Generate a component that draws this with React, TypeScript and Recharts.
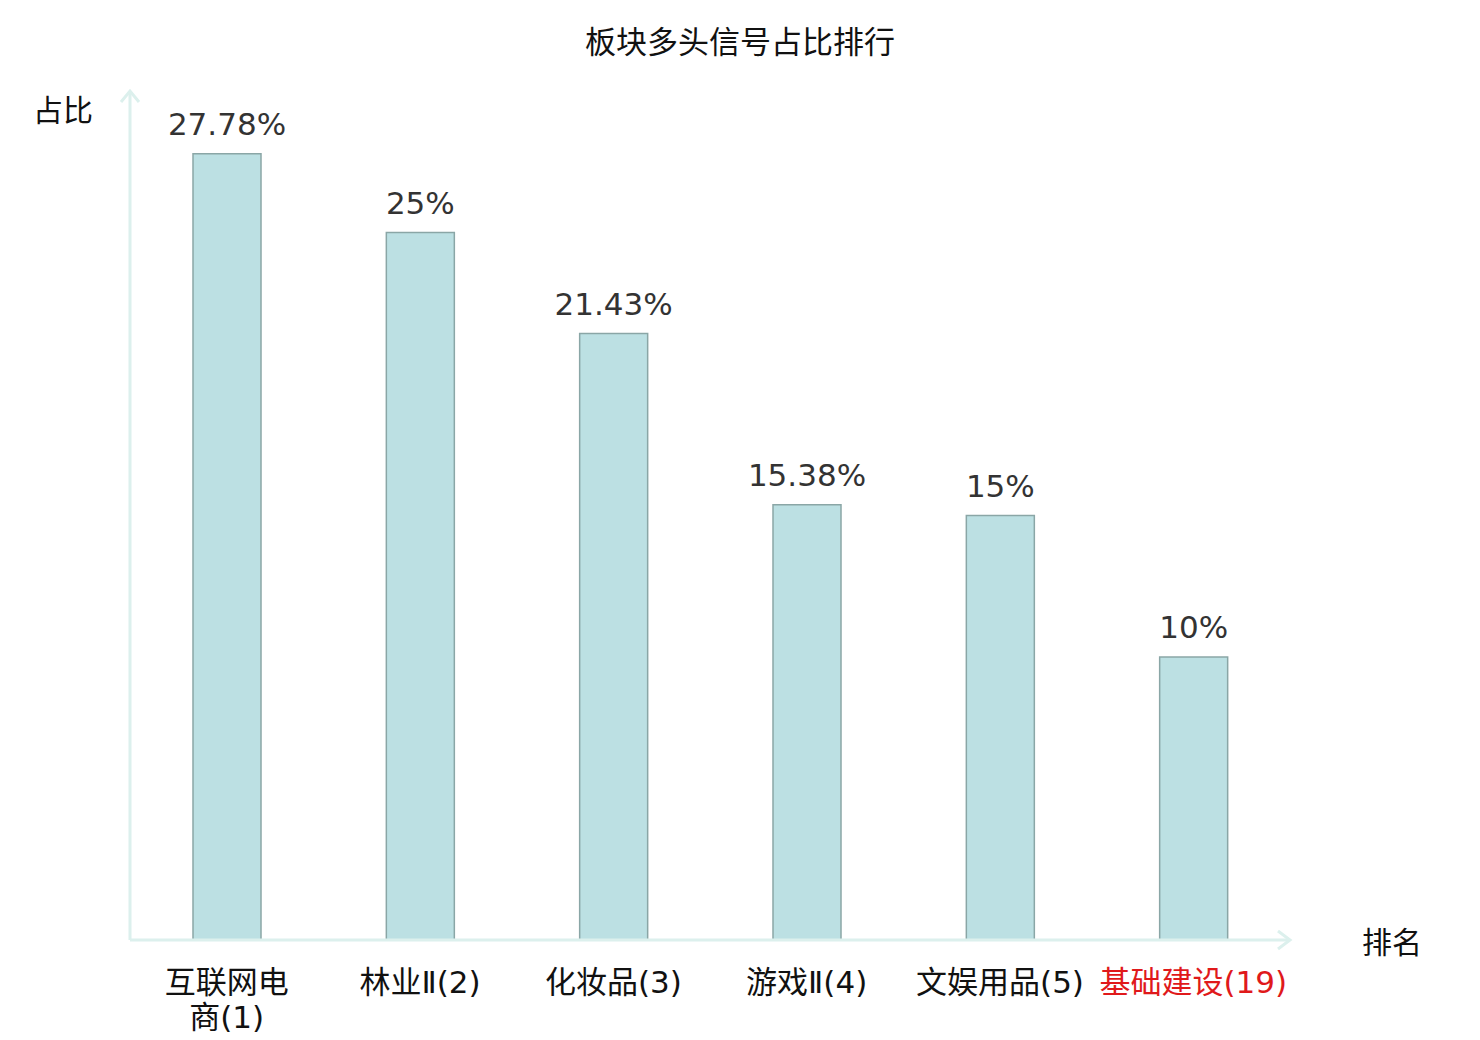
import { Bar, BarChart, LabelList, XAxis, YAxis } from 'recharts';

const sectors = ['互联网电商(1)', '林业Ⅱ(2)', '化妆品(3)', '游戏Ⅱ(4)', '文娱用品(5)', '基础建设(19)'];
const shares = [27.78, 25, 21.43, 15.38, 15, 10];
const highlighted = ['基础建设(19)'];

const rows = sectors.map((name, i) => ({ name, share: shares[i] }));

const W = 1480;
const H = 1040;
const X_AXIS_H = 30;
const M = { top: 91, right: 190, left: 129, bottom: 100 - X_AXIS_H };
const AXIS = '#dcf0ed';
const FONT = '"DejaVu Sans", "Noto Sans CJK SC", sans-serif';
const CJK = '"Noto Sans CJK SC", "DejaVu Sans", sans-serif';

function splitLabel(label: string): string[] {
  // names with more than four hanzi wrap after the fourth
  const hanzi = label.match(/[\u4e00-\u9fff]/g) || [];
  if (hanzi.length > 4) return [label.slice(0, 4), label.slice(4)];
  return [label];
}

function SectorTick(props: any) {
  const { x, y, payload } = props;
  const lines = splitLabel(payload.value);
  const color = highlighted.includes(payload.value) ? '#e0191b' : '#111';
  return (
    <g transform={`translate(${x},${y})`}>
      {lines.map((line, i) => (
        <text
          key={i}
          x={0}
          y={45 + i * 35}
          textAnchor="middle"
          fill={color}
          fontSize={31}
          fontFamily={FONT}
        >
          {line}
        </text>
      ))}
    </g>
  );
}

export default function App() {
  const x0 = 130;
  const x1 = W - M.right;
  const y0 = H - 100;
  const y1 = M.top;
  return (
    <div style={{ position: 'absolute', left: 0, top: 0, width: W, height: H, background: '#fff' }}>
      <BarChart width={W} height={H} data={rows} margin={M}>
        <XAxis
          dataKey="name"
          interval={0}
          height={X_AXIS_H}
          tickLine={false}
          axisLine={{ stroke: AXIS, strokeWidth: 3 }}
          tick={<SectorTick />}
        />
        <YAxis domain={[0, 30]} width={1} tick={false} tickLine={false} axisLine={false} />
        <Bar
          dataKey="share"
          barSize={68}
          fill="#bce0e3"
          stroke="#8aa6a6"
          strokeWidth={1.5}
          isAnimationActive={false}
        >
          <LabelList
            dataKey="share"
            position="top"
            offset={19}
            fill="#333"
            fontSize={31}
            fontFamily={FONT}
            formatter={(v: any) => `${v}%`}
          />
        </Bar>
      </BarChart>
      <svg width={W} height={H} style={{ position: 'absolute', left: 0, top: 0, pointerEvents: 'none' }}>
        <line x1={x0} y1={y0} x2={x0} y2={y1} stroke={AXIS} strokeWidth={3} />
        <polyline
          points={`${x0 - 9},${y1 + 11} ${x0},${y1} ${x0 + 9},${y1 + 11}`}
          fill="none"
          stroke={AXIS}
          strokeWidth={3}
        />
        <polyline
          points={`${x1 - 12},${y0 - 9} ${x1},${y0} ${x1 - 12},${y0 + 9}`}
          fill="none"
          stroke={AXIS}
          strokeWidth={3}
        />
        <text x={740} y={53} textAnchor="middle" fontSize={31} fontFamily={CJK} fill="#111">
          板块多头信号占比排行
        </text>
        <text x={63} y={121} textAnchor="middle" fontSize={30} fontFamily={CJK} fill="#111">
          占比
        </text>
        <text x={1392} y={953} textAnchor="middle" fontSize={30} fontFamily={CJK} fill="#111">
          排名
        </text>
      </svg>
    </div>
  );
}
